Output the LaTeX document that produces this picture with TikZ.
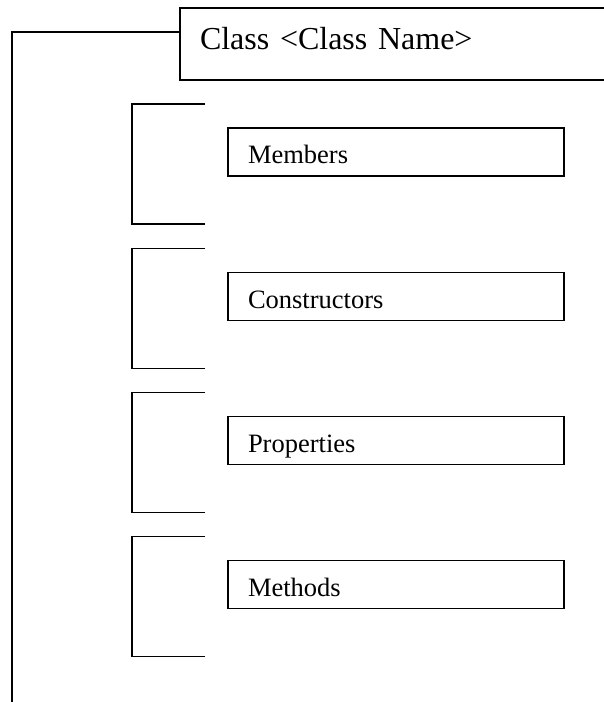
\documentclass[tikz,border=0pt]{standalone}
\usepackage{fontspec}
\setmainfont{Liberation Serif}
\usepackage{tikz}
\usetikzlibrary{calc,positioning}
\tikzset{ln/.style={draw, line width=1.4pt, line cap=rect}}
\tikzset{cbox/.style={rectangle, draw, line width=1.4pt, outer sep=0pt,
  inner xsep=20pt, inner ysep=0pt, text width=390pt, align=left,
  minimum height=72pt, text height=22pt, text depth=12pt,
  font=\fontsize{32}{36}\selectfont}}
\tikzset{mbox/.style={rectangle, draw, line width=1.4pt, outer sep=0pt,
  inner xsep=20pt, inner ysep=0pt, text width=296pt, align=left,
  minimum height=48pt, text height=23pt, text depth=0pt,
  font=\fontsize{26.5}{30}\selectfont}}
% bracket on the left of a part box
\newcommand{\brk}[1]{\draw [ln] ($(#1.north west)+(-24,-24)$) -| ($(#1.south west)+(-96,48)$) -- ++(72,0);}
\begin{document}
\begin{tikzpicture}[x=1pt,y=-1pt]
        \clip (0,0) rectangle (604,702);
        %% class box
        \node (cls) at (395,44) [cbox] {Class <Class Name>};
        \coordinate (hook) at (12,32);
        \coordinate (foot) at (12,702);
        \draw [ln] (hook -| cls.west) -- (hook) -- (foot);
        %% parts
        \node (mem) at (396,152) [mbox] {Members};
        \node (con) at (396,296.5) [mbox] {Constructors};
        \node (pro) at (396,440.5) [mbox] {Properties};
        \node (met) at (396,584.5) [mbox] {Methods};
        \brk{mem} \brk{con} \brk{pro} \brk{met}
\end{tikzpicture}
\end{document}
